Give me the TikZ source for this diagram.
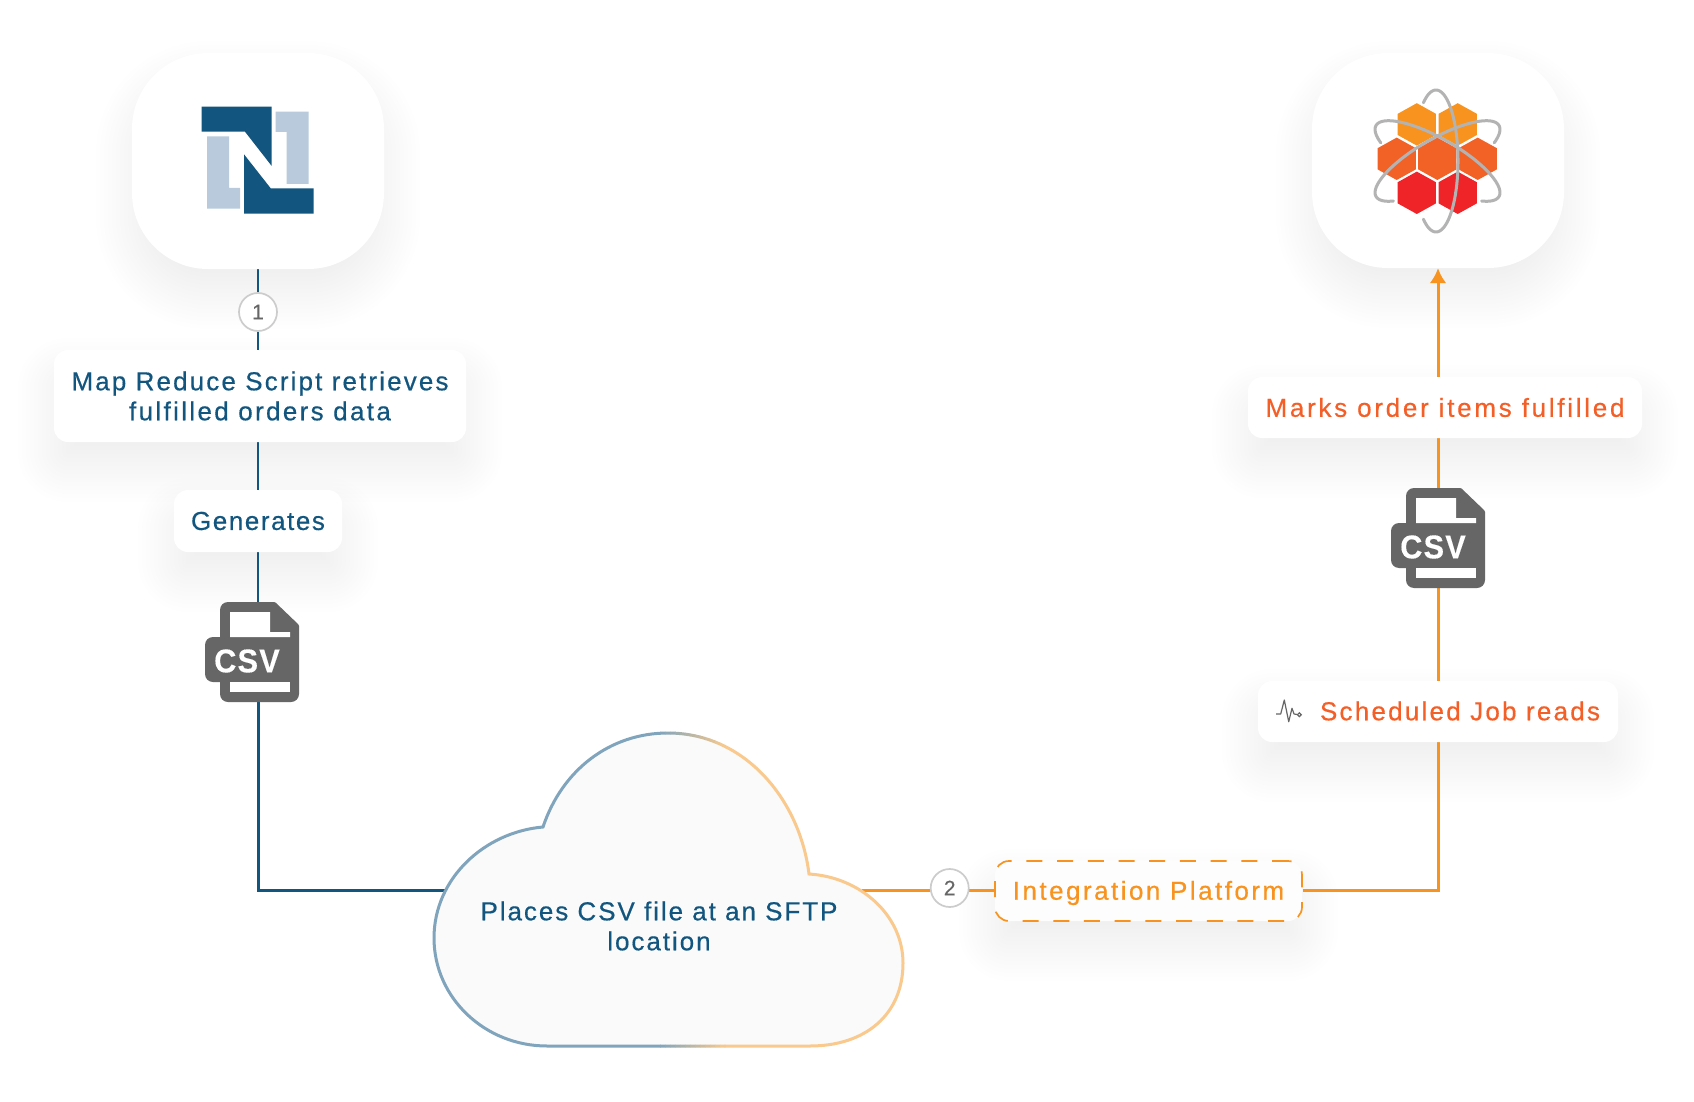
\documentclass[tikz,border=0pt]{standalone}
\usepackage{fontspec}
\usetikzlibrary{arrows.meta,calc,backgrounds}
\setmainfont[FakeBold=0.5]{Liberation Sans}
\newfontfamily\numfont[FakeBold=0.3]{Liberation Sans}
\newfontfamily\csvfont[LetterSpace=4,FakeBold=0.3]{Liberation Sans Bold}
\newcommand{\trk}[1]{\addfontfeatures{LetterSpace=#1}}
\definecolor{navy}{HTML}{12567F}
\definecolor{lineor}{HTML}{F7931E}
\definecolor{labelor}{HTML}{F45F27}
\definecolor{iconGray}{HTML}{666666}
\definecolor{ringGray}{HTML}{CCCCCC}
\definecolor{logoLight}{HTML}{B8CADB}
\definecolor{hexA}{HTML}{F7931E}
\definecolor{hexB}{HTML}{F26227}
\definecolor{hexC}{HTML}{EE2429}
\definecolor{orbit}{HTML}{B3B3B3}
\definecolor{cloudBlue}{HTML}{7FA4BC}
\definecolor{cloudOr}{HTML}{F9C98D}
\definecolor{cloudFill}{HTML}{FAFAFA}
\pgfdeclarelayer{shadowlayer}
\pgfdeclarelayer{connlayer}
\pgfsetlayers{shadowlayer,connlayer,main}
\tikzset{
  labelbox/.style={fill=white,rounded corners=14pt,inner sep=0pt,align=center,font=\fontsize{26}{30}\selectfont},
  logocard/.style={fill=white,rounded corners=76pt,inner sep=0pt,minimum width=252pt,minimum height=216pt},
  stepring/.style={circle,draw=ringGray,line width=1.7pt,fill=white,minimum size=38pt,inner sep=0pt,text=iconGray,font=\numfont\fontsize{21}{24}\selectfont},
  iconslot/.style={inner sep=0pt,minimum width=82pt,minimum height=100pt},
  navyline/.style={draw=navy,line width=2.4pt},
  navythick/.style={draw=navy,line width=3pt},
  orline/.style={draw=lineor,line width=3pt},
  orbitline/.style={draw=orbit,line width=3pt,line cap=round}
}
\newcommand{\softshadow}[5]{% x1 y1 x2 y2 radius
  \begin{pgfonlayer}{shadowlayer}
  \foreach \e in {36,32,...,-24}{
    \pgfmathsetmacro{\rad}{max(#5+\e,2)}
    \fill[black,opacity=0.0045,rounded corners=\rad pt] ({#1-\e},{#2-\e+24}) rectangle ({#3+\e},{#4+\e+24});
  }
  \end{pgfonlayer}}
\newcommand{\csvicon}[3]{% x y name
  \begin{scope}[shift={(#1,#2)}]
    \fill[iconGray,rounded corners=8pt] (0,50) -- (0,0) [rounded corners=1pt] -- (55,0) -- (79,23) [rounded corners=8pt] -- (79,100) -- (0,100) -- cycle;
    \fill[iconGray,rounded corners=8pt] (20,35) -- (-15,35) -- (-15,80) -- (20,80) -- cycle;
    \fill[white] (10,10) -- (50,10) -- (50,30) -- (70,30) -- (70,35) -- (10,35) -- cycle;
    \fill[white] (10,80) rectangle (70,90);
    \node[text=white,inner sep=0pt,font=\csvfont\fontsize{33}{33}\selectfont,xscale=.93] (#3) at (27,59) {CSV};
  \end{scope}}
\newcommand{\hexa}[3]{% cx cy colour
  \fill[#3] (#1,{#2-21.2}) -- ({#1+19.1},{#2-10.6}) -- ({#1+19.1},{#2+10.6}) -- (#1,{#2+21.2}) -- ({#1-19.1},{#2+10.6}) -- ({#1-19.1},{#2-10.6}) -- cycle;}
\newcommand{\cloudpath}{(547,1046) .. controls (485,1046) and (434,998) .. (434,938)
  .. controls (434,878) and (485,832) .. (543,827)
  .. controls (562,770) and (610,733) .. (668,733)
  .. controls (745,733) and (800,800) .. (809,874)
  .. controls (860,877) and (903,915) .. (903,963)
  .. controls (903,1015) and (865,1046) .. (810,1046) -- cycle}
\begin{document}
\begin{tikzpicture}[x=1pt,y=-1pt]
\useasboundingbox (0,0) rectangle (1694,1102);
\begin{pgfonlayer}{shadowlayer}
\fill[white] (0,0) rectangle (1694,1102);
\end{pgfonlayer}

% ---- shadows
\softshadow{132}{53}{384}{269}{76}
\softshadow{1312}{53}{1564}{268}{76}
\softshadow{54}{350}{466}{442}{14}
\softshadow{174}{490}{342}{552}{14}
\softshadow{1248}{377}{1642}{438}{14}
\softshadow{1258}{681}{1618}{742}{14}
\softshadow{995}{861}{1302}{921}{14}

% ---- nodes
\node[logocard] (card1) at (258,161) {};
\node[logocard,minimum height=215pt] (card2) at (1438,160.5) {};
\node[stepring] (circ1) at (258,312) {1};
\node[stepring] (circ2) at (949.7,888) {2};
\node[labelbox,minimum width=412pt,minimum height=92pt,text=navy] (mapbox) at (260,396)
  {{\trk{8.2}Map Reduce Script retrieves}\\{\trk{9}fulfilled orders data}};
\node[labelbox,minimum width=168pt,minimum height=62pt,text=navy] (gen) at (258,521) {\trk{6}Generates};
\node[iconslot] (csvA) at (258,652) {};
\node[iconslot] (csvB) at (1438,538) {};
\node[labelbox,minimum width=394pt,minimum height=61pt,text=labelor] (marks) at (1445,407.5) {\trk{10.5}Marks order items fulfilled};
\node[labelbox,minimum width=360pt,minimum height=61pt] (sched) at (1438,711.5) {};
\node[inner sep=0pt,text=labelor,font=\fontsize{26}{30}\selectfont] (schedtext) at (1460,711) {\trk{8.6}Scheduled Job reads};
\node[labelbox,minimum width=307pt,minimum height=60pt,fill=white!60!cloudFill,draw=lineor,line width=1.7pt,dash pattern=on 16pt off 14.7pt] (ipbox) at (1148.5,891) {};
\node[inner sep=0pt,text=lineor,font=\fontsize{26}{30}\selectfont] (iptext) at (1148.5,893) {\trk{9.5}Integration Platform};
\coordinate (cloudL) at (447,890);
\coordinate (cloudR) at (862,890);

% ---- connectors
\begin{pgfonlayer}{connlayer}
\draw[navyline] (card1.south) -- (circ1.north);
\draw[navyline] (circ1.south) -- (circ1.south |- mapbox.north);
\draw[navyline] (circ1.south |- mapbox.south) -- (gen.north);
\draw[navyline] (gen.south) -- (csvA.north);
\draw[navythick] (csvA.south) |- (cloudL);
\draw[orline] (cloudR) -- (circ2.east |- cloudR);
\draw[orline] (circ2.east |- cloudR) -- (ipbox.west |- cloudR);
\draw[orline] (ipbox.east |- cloudR) -| (sched.south);
\draw[orline] (sched.north) -- (csvB.south);
\draw[orline] (csvB.north) -- (csvB.north |- marks.south);
\draw[orline,-{Latex[length=15pt,width=17pt]}] (csvB.north |- marks.north) -- (card2.south);
\end{pgfonlayer}

% ---- cloud
\fill[cloudFill] \cloudpath;
\begin{scope}
  \clip (400,700) rectangle (660.5,1060);
  \draw[cloudBlue,line width=3pt] \cloudpath;
\end{scope}
\begin{scope}
  \clip (724.5,700) rectangle (920,1060);
  \draw[cloudOr,line width=3pt] \cloudpath;
\end{scope}
\foreach \sx in {660,665,...,720}{
  \pgfmathsetmacro{\pc}{(\sx+2.5-660)/65*100}
  \colorlet{stripcol}{cloudOr!\pc!cloudBlue}
  \begin{scope}
    \clip (\sx,700) rectangle ({\sx+5.4},1060);
    \draw[stripcol,line width=3pt] \cloudpath;
  \end{scope}
}
\node[inner sep=0pt,align=center,text=navy,font=\fontsize{26}{30}\selectfont] (cloudtext) at (659,926) {{\trk{7.5}Places CSV file at an SFTP}\\{\trk{7.5}location}};

% ---- NetSuite logo
\fill[navy] (201.7,106.7) -- (271.7,106.7) -- (271.7,166) -- (245,131.7) -- (201.7,131.7) -- cycle;
\fill[navy] (244,154.3) -- (270.7,188.3) -- (313.7,188.3) -- (313.7,213.7) -- (244,213.7) -- cycle;
\fill[logoLight] (275.7,111.7) -- (308.7,111.7) -- (308.7,184) -- (286.7,184) -- (286.7,132) -- (275.7,132) -- cycle;
\fill[logoLight] (207,136.3) -- (229,136.3) -- (229,188) -- (240,188) -- (240,208.7) -- (207,208.7) -- cycle;

% ---- hexagon logo
\hexa{1416.8}{124.4}{hexA}
\hexa{1457.7}{124.4}{hexA}
\hexa{1396.7}{158.8}{hexB}
\hexa{1437.3}{158.8}{hexB}
\hexa{1477.7}{158.8}{hexB}
\hexa{1416.8}{192.8}{hexC}
\hexa{1457.7}{192.8}{hexC}
\draw[orbitline] plot[domain=125:-125,samples=70,smooth] ({1436+22*cos(\x)},{161-71*sin(\x)});
\draw[orbitline] plot[domain=145:395,samples=80,smooth] ({1437.5+71*cos(\x)*cos(30)-22*sin(\x)*sin(30)},{161+71*cos(\x)*sin(30)+22*sin(\x)*cos(30)});
\draw[orbitline] plot[domain=145:395,samples=80,smooth] ({1437.5-71*cos(\x)*cos(30)+22*sin(\x)*sin(30)},{161+71*cos(\x)*sin(30)+22*sin(\x)*cos(30)});

% ---- CSV icons
\csvicon{220}{602}{csvTextA}
\csvicon{1406}{488}{csvTextB}

% ---- pulse icon
\draw[iconGray,line width=1.2pt,line join=round] (1276,714) -- (1280.7,714) -- (1284.3,700) -- (1288.7,721.7) -- (1292,708.3) -- (1294,714) -- (1297.3,714.5);
\draw[iconGray,line width=1.2pt] (1299.3,714.7) circle (1.9);
\end{tikzpicture}
\end{document}
